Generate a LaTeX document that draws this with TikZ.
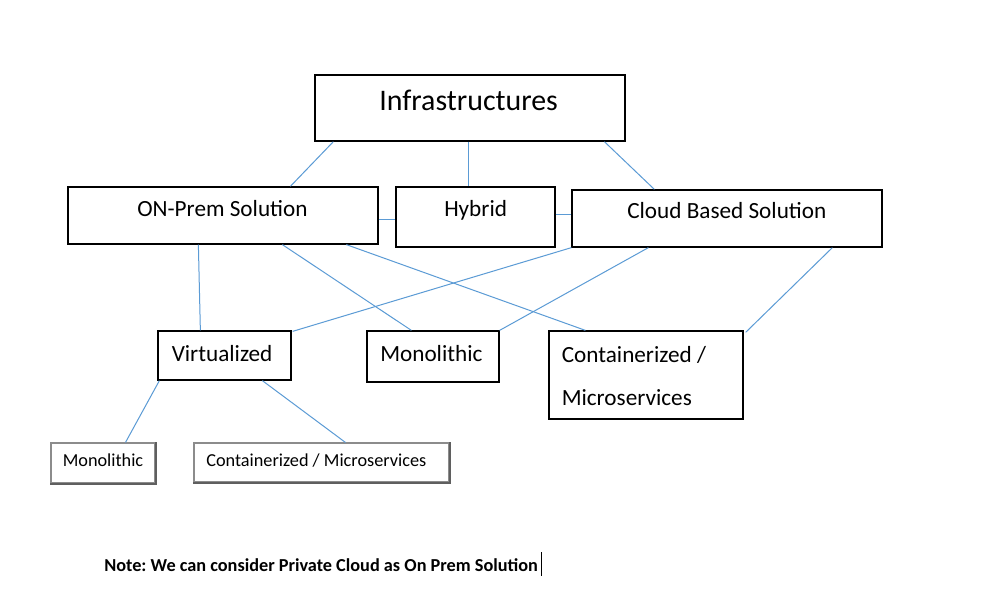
\documentclass[tikz,border=0pt]{standalone}
\usepackage{fontspec}
\setmainfont{Carlito}
\usetikzlibrary{fit,calc}
\frenchspacing
\definecolor{conn}{HTML}{5B9BD5}
\definecolor{lightframe}{HTML}{8C8C8C}
\definecolor{darkframe}{HTML}{5F5F5F}
\begin{document}
\begin{tikzpicture}[x=0.75pt,y=-0.75pt,
  box/.style={draw=black, line width=0.95pt, inner sep=0pt, minimum size=0pt},
  sbox/.style={draw=lightframe, line width=0.8pt, inner sep=0pt, minimum size=0pt},
  txt/.style={inner sep=0pt, anchor=base west, font=\fontsize{17.4}{20}\selectfont},
  bigtxt/.style={txt, font=\fontsize{22.4}{26}\selectfont},
  smalltxt/.style={txt, font=\fontsize{13.7}{16}\selectfont},
  notetxt/.style={txt, font=\fontsize{13.7}{16}\selectfont\bfseries},
  link/.style={draw=conn, line width=0.75pt}]
\useasboundingbox (0,0) rectangle (987,595);
\fill[white] (0,0) rectangle (987,595);

% boxes
\node[box, fit={(315,75) (625,141)}] (infra) {};
\node[box, fit={(68,187) (378,244)}] (onprem) {};
\node[box, fit={(396,187) (555,247)}] (hybrid) {};
\node[box, fit={(572,190) (882,247)}] (cloud) {};
\node[box, fit={(158,331) (291,380)}] (virt) {};
\node[box, fit={(367,331) (499,382)}] (mono) {};
\node[box, fit={(549,331) (743,419)}] (cont) {};
\node[sbox, fit={(51,443) (155,483)}] (smono) {};
\node[sbox, fit={(194,443) (449,482)}] (scont) {};
% shadow edges of the small boxes
\draw[darkframe, line width=1.2pt] ($(smono.north east)+(0.7,0)$) -- ($(smono.south east)+(0.7,0.7)$) -- ($(smono.south west)+(0,0.7)$);
\draw[darkframe, line width=1.2pt] ($(scont.north east)+(0.7,0)$) -- ($(scont.south east)+(0.7,0.7)$) -- ($(scont.south west)+(0,0.7)$);

% texts
\node[bigtxt] (tinfra) at (379,111) {Infrastructures};
\node[txt] (tonprem) at (137,216) {ON-Prem Solution};
\node[txt] (thybrid) at (444,216) {Hybrid};
\node[txt] (tcloud) at (627,219) {Cloud Based Solution};
\node[txt] (tvirt) at (171.5,361) {Virtualized};
\node[txt] (tmono) at (380,361) {Monolithic};
\node[txt] (tcont1) at (561.5,362) {Containerized /};
\node[txt] (tcont2) at (561.5,405) {Microservices};
\node[smalltxt] (tsmono) at (62.5,466.5) {Monolithic};
\node[smalltxt] (tscont) at (206,466.5) {Containerized / Microservices};
\node[notetxt] (tnote) at (104,571.5) {Note: We can consider Private Cloud as On Prem Solution};
\coordinate (caret) at (541,552);
\draw[black, line width=0.75pt] (caret) -- ++(0,24);

% connectors
\draw[link] ($(infra.south west)+(19,0)$) -- ($(onprem.north west)+(223,0)$);
\draw[link] ($(infra.south west)+(154,0)$) -- ($(hybrid.north west)+(73,0)$);
\draw[link] ($(infra.south west)+(290,0)$) -- ($(cloud.north west)+(83,0)$);
\draw[link] ($(onprem.north east)+(0,33)$) -- ($(hybrid.north west)+(0,33)$);
\draw[link] ($(hybrid.north east)+(0,28)$) -- ($(cloud.north west)+(0,25)$);
\draw[link] ($(onprem.south west)+(131,0)$) -- ($(virt.north west)+(43,0)$);
\draw[link] ($(onprem.south west)+(215,0)$) -- ($(mono.north west)+(45,0)$);
\draw[link] ($(onprem.south west)+(279,0)$) -- ($(cont.north west)+(37,0)$);
\draw[link] (cloud.south west) -- ($(virt.north east)+(1,1)$);
\draw[link] ($(cloud.south west)+(77,0)$) -- (mono.north east);
\draw[link] ($(cloud.south west)+(261,0)$) -- ($(cont.north east)+(2,2)$);
\draw[link] ($(virt.south west)+(2,0)$) -- ($(smono.north west)+(75,0)$);
\draw[link] ($(virt.south west)+(105,0)$) -- ($(scont.north west)+(152,0)$);
\end{tikzpicture}
\end{document}
